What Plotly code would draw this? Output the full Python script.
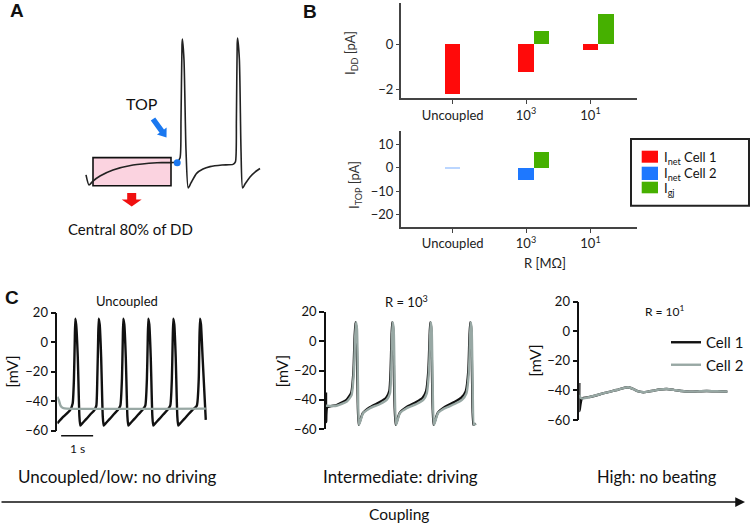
import math
import plotly.graph_objects as go

W, H = 750, 526
FONT = "Lato, 'Open Sans', sans-serif"

# ---------------- data ----------------
# Panel A: schematic action potential (time in ms, voltage in mV)
a_t = [0, 15, 35, 70, 135, 235, 355, 455, 470, 475, 480, 482, 490, 500, 511, 525, 553, 585, 620, 680,
       735, 747, 752, 756, 758, 767, 775, 783, 795, 820, 845, 870]
a_v = [-53, -58.4, -56.3, -53.6, -50.4, -47.7, -46.5, -46.1, -44, -23.7, 16.3, 19.5, 8.3, -39.7, -60,
       -57.3, -52.2, -49.9, -48.6, -47.7, -47.4, -46.1, -23.7, 16.8, 20, 8.3, -39.7, -60, -57.9, -54.1,
       -51.5, -49.6]
a_top_t, a_top_v = [456], [-46.5]
a_dd_window = [35, 425]          # central 80% of DD (ms)
a_dd_vrange = [-58.8, -43.8]

# Panel B: currents
categories = ["Uncoupled", "10<sup>3</sup>", "10<sup>1</sup>"]
cat_pos = [0.0, 1.0, 1.88]
idd_cell1 = [-2.24, -1.23, -0.27]
idd_gj = [0.0, 0.59, 1.32]
itop_cell2 = [-0.15, -5.3, None]
itop_gj = [0.0, 6.5, None]
legend_b_names = ["I<sub>net</sub> Cell 1", "I<sub>net</sub> Cell 2", "I<sub>gj</sub>"]

# Panel C: membrane potential traces (time in s, voltage in mV)
c1_t1 = [0, 0.19, 0.40, 0.48, 0.52, 0.545, 0.5625, 0.59, 0.64, 0.69, 0.72, 0.78, 0.91, 1.03, 1.16, 1.22,
         1.25, 1.275, 1.294, 1.325, 1.37, 1.42, 1.45, 1.51, 1.64, 1.76, 1.89, 1.97,
         2.02, 2.045, 2.0625, 2.094, 2.14, 2.19, 2.22, 2.28, 2.41, 2.53, 2.66, 2.75,
         2.80, 2.825, 2.844, 2.875, 2.92, 2.97, 3.00, 3.06, 3.19, 3.31, 3.44, 3.53,
         3.58, 3.605, 3.625, 3.656, 3.70, 3.75, 3.78, 3.84, 3.97, 4.09, 4.22, 4.36,
         4.42, 4.44, 4.46, 4.49, 4.54, 4.64]
c1_v1 = [-55, -50.5, -46, -41.5, -25, 0, 16, 12, -10, -50, -56.5, -55, -52, -49, -46, -43,
         -25, 0, 16, 12, -10, -50, -56.5, -55, -52, -49, -46, -43,
         -25, 0, 16, 12, -10, -50, -56.5, -55, -52, -49, -46, -43,
         -25, 0, 16, 12, -10, -50, -56.5, -55, -52, -49, -46, -43,
         -25, 0, 16, 12, -10, -50, -56.5, -55, -52, -49, -46, -43,
         -25, 0, 16, 12, -10, -52.7]
c1_t2 = [0, 0.05, 0.10, 0.18, 0.30, 4.64]
c1_v2 = [-37, -39.5, -43, -44.6, -45, -45]

c2_t1 = [0, 0.005, 0.04, 0.33, 0.64, 0.79, 0.86, 0.89, 0.92, 0.95, 0.985, 1.02,
         1.15, 1.37, 1.68, 1.88, 1.98, 2.02, 2.045, 2.068, 2.10, 2.13, 2.175,
         2.30, 2.51, 2.82, 3.02, 3.13, 3.20, 3.235, 3.257, 3.29, 3.32, 3.36,
         3.49, 3.70, 4.01, 4.23, 4.37, 4.45, 4.48, 4.507, 4.54, 4.57, 4.61, 4.68]
c2_v1 = [-35, -55, -45, -43.5, -40, -35, -20, 0, 12.8, 8, -30, -57,
         -49, -45, -41.5, -38.5, -34, -20, 0, 12.8, 8, -30, -57,
         -49, -45, -41.5, -38.5, -34, -20, 0, 12.8, 8, -30, -57,
         -49, -45, -41.5, -38.5, -34, -20, 0, 12.8, 8, -30, -57, -56]
c2_t2 = [0, 0.33, 0.65, 0.80, 0.875, 0.906, 0.9375, 0.969, 1.0, 1.03,
         1.16, 1.375, 1.69, 1.896, 2.0, 2.04, 2.06, 2.084, 2.116, 2.147, 2.19,
         2.31, 2.52, 2.83, 3.04, 3.15, 3.22, 3.25, 3.272, 3.303, 3.334, 3.375,
         3.5, 3.71, 4.02, 4.25, 4.39, 4.47, 4.497, 4.522, 4.553, 4.584, 4.625, 4.68]
c2_v2 = [-44, -44, -41.2, -36.7, -20, 0, 12.8, 8, -30, -57,
         -49, -45.7, -42.8, -40, -35.5, -20, 0, 12.8, 8, -30, -57,
         -49, -45.7, -42.8, -40, -35.5, -20, 0, 12.8, 8, -30, -57,
         -49, -45.7, -42.8, -40, -35.5, -20, 0, 12.8, 8, -30, -57, -56]

c3_t1 = [0, 0.005, 0.08, 0.35, 0.65, 0.9, 1.17, 1.35, 1.53, 1.7, 1.85, 2.0, 2.15, 2.31, 2.5, 2.73,
         2.95, 3.2, 3.46, 3.75, 3.98, 4.3, 4.625]
c3_v1 = [-35, -54, -45.5, -44.3, -42.6, -41.1, -39.7, -38.6, -37.9, -39.2, -40.7, -41.2, -40.8, -40.2,
         -39.4, -39.0, -39.6, -40.4, -40.8, -40.6, -40.4, -40.6, -40.8]
c3_t2 = [0, 0.04, 0.12, 0.35, 0.65, 0.9, 1.17, 1.35, 1.53, 1.7, 1.85, 2.0, 2.15, 2.31, 2.5, 2.73,
         2.95, 3.2, 3.46, 3.75, 3.98, 4.3, 4.625]
c3_v2 = [-43, -45, -45.5, -44.3, -42.6, -41.1, -39.7, -38.6, -37.9, -39.2, -40.7, -41.2, -40.8, -40.2,
         -39.4, -39.0, -39.6, -40.4, -40.8, -40.6, -40.4, -40.6, -40.8]

mv_ticks = [-60, -40, -20, 0, 20]

# ---------------- styles / helpers ----------------
RED, BLUE, GREEN = "#ff0a0a", "#1e78ff", "#46b000"
BLACK, GRAY = "#111111", "#98a8a4"
AXC = "#444444"


def X(px):
    return px / W


def Y(py):
    return 1 - py / H


def dx(a, b):
    return [a / W, b / W]


def dy(top, bottom):
    return [1 - bottom / H, 1 - top / H]


def block_arrow(x0, y0, x1, y1, sw, hw, hl):
    L = math.hypot(x1 - x0, y1 - y0)
    ux, uy = (x1 - x0) / L, (y1 - y0) / L
    nx, ny = -uy, ux
    bx, by = x1 - ux * hl, y1 - uy * hl
    pts = [(x0 + nx * sw / 2, y0 + ny * sw / 2), (bx + nx * sw / 2, by + ny * sw / 2),
           (bx + nx * hw / 2, by + ny * hw / 2), (x1, y1),
           (bx - nx * hw / 2, by - ny * hw / 2), (bx - nx * sw / 2, by - ny * sw / 2),
           (x0 - nx * sw / 2, y0 - ny * sw / 2)]
    return "M " + " L ".join(f"{X(p[0]):.5f},{Y(p[1]):.5f}" for p in pts) + " Z"


fig = go.Figure()

# ---- Panel A ----
fig.add_trace(go.Scatter(x=a_t, y=a_v, mode="lines", line=dict(color="#222", width=1.6, shape="spline", smoothing=0.6),
                         xaxis="x", yaxis="y", showlegend=False, hoverinfo="skip"))
fig.add_trace(go.Scatter(x=a_top_t, y=a_top_v, mode="markers", marker=dict(color="#1a78f0", size=7),
                         xaxis="x", yaxis="y", showlegend=False, hoverinfo="skip"))

# ---- Panel B bars ----
BW = 0.212
fig.add_trace(go.Bar(x=cat_pos, y=idd_cell1, width=BW, offset=-BW / 2, marker=dict(color=RED, line=dict(width=0)),
                     name=legend_b_names[0], xaxis="x2", yaxis="y2", showlegend=False))
fig.add_trace(go.Bar(x=cat_pos, y=idd_gj, width=BW, offset=BW / 2, marker=dict(color=GREEN, line=dict(width=0)),
                     name=legend_b_names[2], xaxis="x2", yaxis="y2", showlegend=False))
fig.add_trace(go.Bar(x=cat_pos, y=itop_cell2, width=BW, offset=-BW / 2,
                     marker=dict(color=BLUE, line=dict(width=0), opacity=[0.3, 1, 1]),
                     name=legend_b_names[1], xaxis="x3", yaxis="y3", showlegend=False))
fig.add_trace(go.Bar(x=cat_pos, y=itop_gj, width=BW, offset=BW / 2, marker=dict(color=GREEN, line=dict(width=0)),
                     name=legend_b_names[2], xaxis="x3", yaxis="y3", showlegend=False))

# ---- Panel C traces ----
for (t1, v1, t2, v2, xa, ya, show) in [(c1_t1, c1_v1, c1_t2, c1_v2, "x4", "y4", False),
                                       (c2_t1, c2_v1, c2_t2, c2_v2, "x5", "y5", False),
                                       (c3_t1, c3_v1, c3_t2, c3_v2, "x6", "y6", True)]:
    fig.add_trace(go.Scatter(x=t1, y=v1, mode="lines", line=dict(color=BLACK, width=2.4, shape="spline", smoothing=0.5),
                             name="Cell 1", xaxis=xa, yaxis=ya, showlegend=show, legend="legend2", hoverinfo="skip"))
    fig.add_trace(go.Scatter(x=t2, y=v2, mode="lines", line=dict(color=GRAY, width=2.4, shape="spline", smoothing=0.5),
                             name="Cell 2", xaxis=xa, yaxis=ya, showlegend=show, legend="legend2", hoverinfo="skip"))

hidden = dict(visible=False)
b_x = dict(showline=True, linecolor=AXC, linewidth=2, ticks="outside", ticklen=4, tickcolor=AXC,
           tickvals=cat_pos, ticktext=categories, range=[-0.705, 2.514], zeroline=False, showgrid=False,
           tickfont=dict(size=13, color="#222"), fixedrange=True)
b_y = dict(showline=True, linecolor=AXC, linewidth=2, ticks="outside", ticklen=3, tickcolor=AXC,
           zeroline=False, showgrid=False, tickfont=dict(size=13, color="#222"))
c_y = dict(showline=True, linecolor=BLACK, linewidth=1.5, ticks="outside", ticklen=5, tickwidth=1.5,
           tickcolor=BLACK, tickvals=mv_ticks, range=[-60, 20], zeroline=False, showgrid=False,
           tickfont=dict(size=13, color="#111"))

fig.update_layout(
    width=W, height=526, margin=dict(l=0, r=0, t=0, b=0, autoexpand=False),
    paper_bgcolor="white", plot_bgcolor="rgba(0,0,0,0)",
    font=dict(family=FONT, color="#111"),
    barmode="overlay", bargap=0,
    xaxis=dict(domain=dx(80, 262), range=[-30, 880], visible=False),
    yaxis=dict(domain=dy(25, 200), range=[-66.4, 26.93], visible=False),
    xaxis2=dict(b_x, domain=dx(401, 637), anchor="y2"),
    yaxis2=dict(b_y, domain=dy(3, 98), range=[-2.4, 1.822], tickvals=[-2, 0], anchor="x2"),
    xaxis3=dict(b_x, domain=dx(401, 637), anchor="y3"),
    yaxis3=dict(b_y, domain=dy(131, 226.7), range=[-25.0, 15.55], tickvals=[-20, -10, 0, 10], anchor="x3"),
    xaxis4=dict(hidden, domain=dx(57.3, 215), range=[0, 4.928], anchor="y4"),
    yaxis4=dict(c_y, domain=dy(312.7, 430.7), anchor="x4"),
    xaxis5=dict(hidden, domain=dx(326, 485), range=[0, 4.97], anchor="y5"),
    yaxis5=dict(c_y, domain=dy(311.7, 429.3), anchor="x5"),
    xaxis6=dict(hidden, domain=dx(579.3, 740), range=[0, 5.02], anchor="y6"),
    yaxis6=dict(c_y, domain=dy(301.7, 420), anchor="x6"),
    legend2=dict(x=X(666), y=Y(326), xanchor="left", yanchor="top", borderwidth=0,
                 bgcolor="rgba(0,0,0,0)", font=dict(size=15, family=FONT), tracegroupgap=0, itemwidth=30),
)

# manual legend for panel B
leg_colors = [RED, BLUE, GREEN]
leg_sq = [(150.7, 162.7), (166.7, 180.0), (181.7, 193.3)]
shapes = [
    dict(type="rect", xref="paper", yref="paper", x0=X(631), x1=X(749), y0=Y(205.7), y1=Y(139),
         fillcolor="white", line=dict(color="#222", width=2)),
]
for c, (t, b) in zip(leg_colors, leg_sq):
    shapes.append(dict(type="rect", xref="paper", yref="paper", x0=X(641.7), x1=X(658), y0=Y(b), y1=Y(t),
                       fillcolor=c, line=dict(width=0)))

shapes += [
    dict(type="rect", xref="x", yref="y", x0=a_dd_window[0], x1=a_dd_window[1], y0=a_dd_vrange[0],
         y1=a_dd_vrange[1], fillcolor="#fbd3e0", line=dict(color="#111", width=1.6), layer="below"),
    dict(type="path", xref="paper", yref="paper", path=block_arrow(153, 119, 166.5, 137.5, 5.5, 12, 8),
         fillcolor="#1a78f0", line=dict(width=0)),
    dict(type="path", xref="paper", yref="paper", path=block_arrow(131.7, 193, 131.7, 206.5, 9, 20, 7),
         fillcolor="#f01010", line=dict(width=0)),
    # 1 s scale bar
    dict(type="line", xref="x4", yref="paper", x0=0.12, x1=1.12, y0=Y(435.7), y1=Y(435.7),
         line=dict(color=BLACK, width=1.5)),
]
fig.update_layout(shapes=shapes)


def ann(text, px, py, size=13, **kw):
    d = dict(text=text, x=X(px), y=Y(py), xref="paper", yref="paper", showarrow=False,
             font=dict(size=size, family=kw.pop("family", FONT), color=kw.pop("color", "#111")),
             xanchor=kw.pop("xanchor", "center"), yanchor=kw.pop("yanchor", "middle"))
    d.update(kw)
    return d


annotations = [
    ann("<b>A</b>", 17, 10, 19, family="'Liberation Sans', Arial, sans-serif"),
    ann("<b>B</b>", 310, 11, 19, family="'Liberation Sans', Arial, sans-serif"),
    ann("<b>C</b>", 12, 297, 19, family="'Liberation Sans', Arial, sans-serif"),
    ann("TOP", 141.7, 103.5, 16),
    ann("Central 80% of DD", 130, 229, 15),
    ann("I<sub>DD</sub> [pA]", 351, 53, 13, textangle=-90, color="#333"),
    ann("I<sub>TOP</sub> [pA]", 355, 185, 13, textangle=-90, color="#333"),
    ann("R [MΩ]", 545, 263, 13, color="#222"),
    ann("Uncoupled", 126.7, 300.7, 13),
    ann("R = 10<sup>3</sup>", 406.7, 301.7, 13),
    ann("R = 10<sup>1</sup>", 665, 311, 12),
    ann("[mV]", 12, 371.7, 16, textangle=-90),
    ann("[mV]", 281.7, 371.7, 16, textangle=-90),
    ann("[mV]", 535, 360.7, 16, textangle=-90),
    ann("1 s", 77, 448, 12),
    ann("Uncoupled/low: no driving", 117, 476.7, 17),
    ann("Intermediate: driving", 400, 476.7, 17),
    ann("High: no beating", 657, 476.7, 16.5),
    ann("Coupling", 399, 514, 15.5),
    dict(x=X(745), y=Y(502), xref="paper", yref="paper", ax=-745, ay=0, axref="pixel", ayref="pixel",
         text="", showarrow=True, arrowhead=2, arrowsize=1.3, arrowwidth=1.5, arrowcolor="#111"),
]
for name, (t, b) in zip(legend_b_names, leg_sq):
    annotations.append(ann(name, 661.5, (t + b) / 2 + 1, 13, xanchor="left"))
fig.update_layout(annotations=annotations)

fig.write_html("out.html", config={"displayModeBar": False},
               post_script="document.body.style.margin='0px';document.body.style.padding='0px';")
